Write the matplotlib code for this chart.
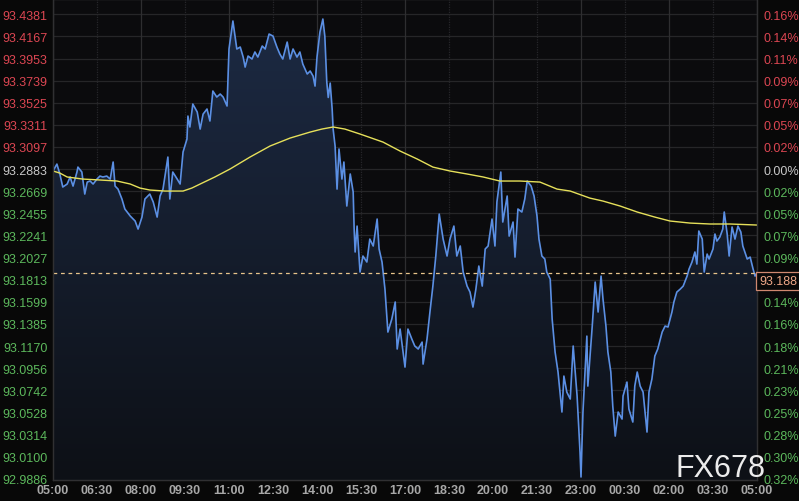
import numpy as np
import matplotlib
matplotlib.use('Agg')
import matplotlib.pyplot as plt

plt.rcParams['font.family'] = ['Liberation Sans', 'DejaVu Sans']

# 分钟（自05:00起）和价格
price_min = [0, 8, 14, 20, 29, 35, 41, 49, 51, 59, 65, 70, 76, 82, 90, 96, 102, 110, 117, 123,
             127, 133, 141, 147, 158, 168, 174, 182, 188, 198, 205, 213, 219, 225, 235, 239, 245, 254, 260, 266,
             274, 276, 280, 286, 295, 301, 307, 315, 321, 327, 335, 342, 348, 356, 360, 368, 376, 383, 389, 393,
             399, 407, 413, 419, 428, 434, 442, 450, 458, 464, 470, 479, 485, 491, 499, 505, 511, 520, 526, 532,
             536, 540, 546, 552, 556, 560, 563, 567, 571, 573, 577, 581, 585, 591, 595, 601, 608, 614, 616, 618,
             622, 628, 634, 642, 648, 655, 663, 667, 673, 679, 685, 693, 700, 704, 710, 720, 726, 734, 740, 747,
             755, 757, 765, 771, 777, 783, 790, 798, 806, 812, 820, 826, 833, 839, 847, 853, 859, 865, 871, 878,
             884, 890, 898, 904, 908, 916, 920, 929, 933, 941, 945, 951, 959, 965, 970, 978, 984, 990, 994, 1000,
             1006, 1010, 1017, 1021, 1027, 1033, 1041, 1045, 1051, 1058, 1064, 1072, 1078, 1080, 1084, 1092, 1094, 1103, 1109, 1115,
             1121, 1125, 1131, 1135, 1141, 1145, 1150, 1156, 1164, 1166, 1174, 1178, 1186, 1190, 1195, 1201, 1207, 1211, 1215, 1219,
             1225, 1231, 1237, 1246, 1252, 1258, 1266, 1270, 1276, 1283, 1289, 1297, 1301, 1307, 1313, 1317, 1321, 1328, 1332, 1338,
             1342, 1350, 1354, 1358, 1364, 1370, 1373, 1379, 1383, 1389, 1395, 1401, 1407, 1411, 1420, 1426, 1432, 1436, 1440]
price = [93.2864, 93.2931, 93.2835, 93.2709, 93.2738, 93.2806, 93.2718, 93.2854, 93.2902, 93.2854,
         93.2641, 93.2757, 93.2767, 93.2738, 93.2786, 93.2815, 93.2806, 93.2815, 93.2786, 93.2951,
         93.2718, 93.2689, 93.2593, 93.2496, 93.2428, 93.2380, 93.2302, 93.2418, 93.2593, 93.2641,
         93.2564, 93.2418, 93.2622, 93.2689, 93.2999, 93.2593, 93.2854, 93.2786, 93.2738, 93.3048,
         93.3173, 93.3396, 93.3290, 93.3512, 93.3435, 93.3270, 93.3415, 93.3464, 93.3348, 93.3638,
         93.3580, 93.3609, 93.3580, 93.3493, 93.4045, 93.4316, 93.4045, 93.4064, 93.3967, 93.3870,
         93.3977, 93.3948, 93.4016, 93.3967, 93.4074, 93.4045, 93.4190, 93.4170, 93.4064, 93.3996,
         93.3948, 93.4112, 93.3948, 93.4045, 93.3967, 93.4016, 93.3899, 93.3803, 93.3832, 93.3783,
         93.3686, 93.3967, 93.4209, 93.4335, 93.4170, 93.3725, 93.3576, 93.3715, 93.3464, 93.3270,
         93.3106, 93.2689, 93.3077, 93.2786, 93.2951, 93.2525, 93.2835, 93.2660, 93.2302, 93.2080,
         93.2331, 93.1886, 93.2041, 93.1983, 93.2205, 93.2138, 93.2399, 93.2109, 93.1983, 93.1721,
         93.1305, 93.1431, 93.1596, 93.1141, 93.1334, 93.0966, 93.1334, 93.1237, 93.1170, 93.1141,
         93.1208, 93.0995, 93.1237, 93.1499, 93.1750, 93.2041, 93.2447, 93.2205, 93.2041, 93.2205,
         93.2331, 93.2041, 93.2138, 93.1886, 93.1750, 93.1692, 93.1547, 93.1721, 93.1944, 93.1750,
         93.2109, 93.2138, 93.2399, 93.2138, 93.2564, 93.2854, 93.2370, 93.2622, 93.2234, 93.2370,
         93.2031, 93.2496, 93.2467, 93.2593, 93.2767, 93.2718, 93.2622, 93.2428, 93.2205, 93.2041,
         93.2012, 93.1886, 93.1818, 93.1431, 93.1112, 93.0918, 93.0531, 93.0879, 93.0724, 93.0657,
         93.1170, 93.0686, 93.0144, 92.9902, 93.0531, 93.1266, 93.0782, 93.1363, 93.1789, 93.1499,
         93.1847, 93.1625, 93.1363, 93.1112, 93.0918, 93.0589, 93.0298, 93.0531, 93.0463, 93.0686,
         93.0821, 93.0560, 93.0434, 93.0782, 93.0918, 93.0782, 93.0724, 93.0531, 93.0337, 93.0724,
         93.0850, 93.1073, 93.1141, 93.1305, 93.1363, 93.1354, 93.1499, 93.1596, 93.1692, 93.1721,
         93.1750, 93.1847, 93.1915, 93.1983, 93.2080, 93.1963, 93.2283, 93.2205, 93.1886, 93.2060,
         93.2012, 93.2109, 93.2254, 93.2186, 93.2225, 93.2302, 93.2467, 93.2254, 93.2041, 93.2322,
         93.2205, 93.2331, 93.2273, 93.2138, 93.2012, 93.2031, 93.1915, 93.1847, 93.1880]

# 均价线
avg_min = [0, 14, 29, 61, 96, 131, 158, 178, 198, 229, 266, 284, 301, 331, 362, 403, 444, 485, 526, 550,
           573, 597, 628, 675, 710, 745, 777, 812, 847, 880, 914, 955, 996, 1031, 1058, 1098, 1125, 1160, 1195, 1231,
           1262, 1303, 1344, 1385, 1440]
avg_price = [93.2864, 93.2844, 93.2806, 93.2786, 93.2777, 93.2767, 93.2738, 93.2699, 93.2680, 93.2670,
             93.2670, 93.2699, 93.2738, 93.2806, 93.2883, 93.2999, 93.3106, 93.3183, 93.3241, 93.3270,
             93.3290, 93.3270, 93.3222, 93.3144, 93.3057, 93.2980, 93.2902, 93.2864, 93.2835, 93.2806,
             93.2767, 93.2767, 93.2757, 93.2689, 93.2670, 93.2602, 93.2573, 93.2525, 93.2467, 93.2418,
             93.2380, 93.2360, 93.2351, 93.2351, 93.2341]

base_price = 93.2883
last_price = 93.188

y_labels = ['93.4381', '93.4167', '93.3953', '93.3739', '93.3525', '93.3311', '93.3097', '93.2883',
            '93.2669', '93.2455', '93.2241', '93.2027', '93.1813', '93.1599', '93.1385', '93.1170',
            '93.0956', '93.0742', '93.0528', '93.0314', '93.0100', '92.9886']
# 0.11% 一格被最新价标签盖住
pct_labels = ['0.16%', '0.14%', '0.11%', '0.09%', '0.07%', '0.05%', '0.02%', '0.00%',
              '0.02%', '0.05%', '0.07%', '0.09%', '', '0.14%', '0.16%', '0.18%',
              '0.21%', '0.23%', '0.25%', '0.28%', '0.30%', '0.32%']
x_labels = ['05:00', '06:30', '08:00', '09:30', '11:00', '12:30', '14:00', '15:30', '17:00',
            '18:30', '20:00', '21:30', '23:00', '00:30', '02:00', '03:30', '05:00']

red = '#dc4652'
green = '#5cb85c'
grey = '#c8c8c8'

y_top = 93.4529
y_bot = 92.9873

fig = plt.figure(figsize=(7.99, 5.02), dpi=100, facecolor='#080808')
ax = fig.add_axes([53 / 799, 21 / 502, 704 / 799, 481 / 502])
ax.set_facecolor('#0b0b0d')
ax.set_xlim(0, 1440)
ax.set_ylim(y_bot, y_top)

y_vals = [float(s) for s in y_labels]
x_pos = [90 * i for i in range(len(x_labels))]

# 网格
for v in y_vals:
    ax.axhline(v, color='#262628', lw=0.9, zorder=0)
for i, xp in enumerate(x_pos):
    if i % 2 == 0:
        ax.axvline(xp, color='#2e2e30', lw=0.9, zorder=0)
    else:
        ax.axvline(xp, color='#26262a', lw=0.9, ls=(0, (1, 1)), zorder=0)

# 渐变填充
poly = ax.fill_between(price_min, price, y_bot, color='none', lw=0)
grad = np.linspace(0, 1, 256).reshape(-1, 1)
cmap = matplotlib.colors.LinearSegmentedColormap.from_list('g', ['#0d1016', '#1d2b45'])
im = ax.imshow(grad, extent=[0, 1440, y_bot, y_top], origin='lower', aspect='auto',
               cmap=cmap, zorder=1)
im.set_clip_path(poly.get_paths()[0], transform=ax.transData)

ax.plot(price_min, price, color='#5b8fe3', lw=1.2, zorder=3)
ax.plot(avg_min, avg_price, color='#e6e05a', lw=1.0, zorder=4)
ax.axhline(last_price, color='#e8c48a', lw=0.9, ls=(0, (3, 3)), zorder=5)

ax.set_xticks(x_pos)
ax.set_xticklabels(x_labels, color='#a8a8a8', fontsize=9, fontweight='bold')
ax.set_yticks(y_vals)
ax.set_yticklabels(y_labels, fontsize=9)
for lab, v in zip(ax.get_yticklabels(), y_vals):
    lab.set_color(red if v > base_price + 1e-6 else (grey if abs(v - base_price) < 1e-6 else green))
ax.tick_params(axis='both', length=0)
ax.tick_params(axis='x', pad=3)
ax.tick_params(axis='y', pad=4)

ax2 = ax.twinx()
ax2.set_ylim(y_bot, y_top)
ax2.set_yticks(y_vals)
ax2.set_yticklabels(pct_labels, fontsize=9)
for lab, v in zip(ax2.get_yticklabels(), y_vals):
    lab.set_color(red if v > base_price + 1e-6 else (grey if abs(v - base_price) < 1e-6 else green))
ax2.tick_params(axis='y', length=0, pad=5)

for a in (ax, ax2):
    for s in a.spines.values():
        s.set_color('#303032')
        s.set_linewidth(0.9)

# 最新价标签
ax2.text(1.003, last_price - 0.0025, '93.188', transform=ax2.get_yaxis_transform(),
         ha='left', va='top', fontsize=9, color='#f0a888', zorder=10, clip_on=False,
         bbox=dict(boxstyle='square,pad=0.22', facecolor='#080808', edgecolor='#d08870', lw=0.9))

fig.text(0.9585, 0.036, 'FX678', fontsize=22, color='#ececec', ha='right', va='bottom')

fig.savefig('out.png', dpi=100, facecolor=fig.get_facecolor())
